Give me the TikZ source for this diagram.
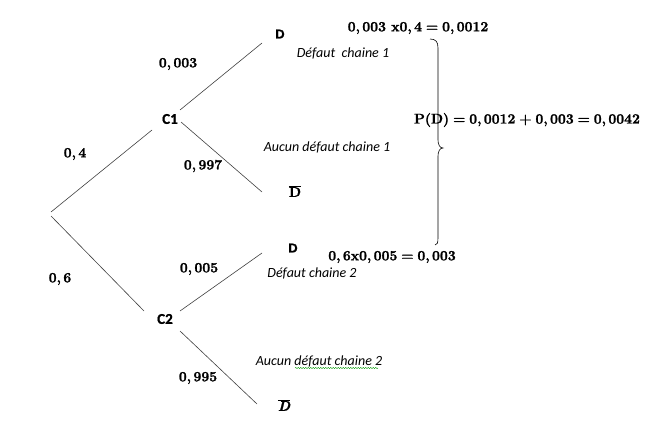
\documentclass[tikz,border=0pt]{standalone}
\usepackage[no-math]{fontspec}
\setmainfont{Carlito}[BoldFeatures={FakeBold=1}]
\newfontfamily\arialf{Liberation Sans}[BoldFeatures={FakeBold=0.8}]
\newfontfamily\cmb{Latin Modern Roman}[BoldFeatures={FakeBold=1.6},BoldItalicFeatures={FakeBold=1.6}]
\usetikzlibrary{decorations.pathmorphing,calc}
\tikzset{
  br/.style={draw=black!75, line width=0.6pt},
  prob/.style={inner sep=0pt, font=\fontsize{14}{16}\selectfont\cmb\bfseries},
  lab/.style={inner sep=0pt, font=\fontsize{14}{16}\selectfont\itshape},
  evt/.style={inner sep=0pt, font=\fontsize{13}{15}\selectfont\arialf\bfseries},
  cn/.style={inner sep=0pt, font=\fontsize{15}{17}\selectfont\bfseries},
}
\newcommand\eqsp{\hspace{0.28em}}
\begin{document}
\begin{tikzpicture}[x=1pt,y=-1pt]
\useasboundingbox (0,0) rectangle (650,420);
% branch endpoints
\coordinate (r1) at (51,212);
\coordinate (r2) at (51,216);
\coordinate (c1a) at (152,130);
\coordinate (c1b) at (180,110);
\coordinate (c1c) at (181,122);
\coordinate (d1e) at (262,43);
\coordinate (n1e) at (262,192);
\coordinate (c2a) at (144,311);
\coordinate (c2b) at (180,311);
\coordinate (c2c) at (180,331);
\coordinate (d2e) at (262,253);
\coordinate (n2e) at (257,404);
% nodes
\node[cn] (C1) at (170,119) {C1};
\node[cn] (C2) at (165,319) {C2};
\node[evt] (D1) at (280,34) {D};
\node[prob] (N1) at (295,191) {$\overline{\hbox{D}}$};
\node[prob] (N2) at (284,405) {$\overline{\hbox{\itshape D}}$};
\node[evt] (D2) at (293,248) {D};
% branches
\draw[br] (r1) -- (c1a);
\draw[br] (r2) -- (c2a);
\draw[br] (c1b) -- (d1e);
\draw[br] (c1c) -- (n1e);
\draw[br] (c2b) -- (d2e);
\draw[br] (c2c) -- (n2e);
% probabilities
\node[prob] (p1) at (75,154) {0,\,4};
\node[prob] (p2) at (60,279) {0,\,6};
\node[prob] (p3) at (178,64) {0,\,003};
\node[prob] (p4) at (203,166) {0,\,997};
\node[prob] (p5) at (199,269) {0,\,005};
\node[prob] (p6) at (198,378) {0,\,995};
% labels
\node[lab] (l1) at (343,53) {Défaut\ \ chaine 1};
\node[lab] (l2) at (327,147) {Aucun défaut chaine 1};
\node[lab] (l3) at (312,273) {Défaut chaine 2};
\node[lab] (l4) at (319,361) {Aucun défaut chaine 2};
\draw[green!60!black, line width=0.4pt, decorate, decoration={snake, amplitude=0.6pt, segment length=2.5pt}]
  ($(l4.center)+(-24,7)$) -- ++(83,0);
% results
\node[prob] (e1) at (418,28) {0,\,003 x0,\,4\eqsp=\eqsp0,\,0012};
\node[prob] (e2) at (392,257) {0,\,6x0,\,005\eqsp=\eqsp0,\,003};
\node[prob] (e3) at (527,120) {P(D)\eqsp=\eqsp0,\,0012\eqsp+\eqsp0,\,003\eqsp=\eqsp0,\,0042};
% brace
\coordinate (bt) at (430,39);
\coordinate (bm) at (443,148);
\coordinate (bb) at (435,245);
\draw[line width=0.6pt] (bt) .. controls (436,39) and (438,42) .. (438,48) -- (438,140)
  .. controls (438,145) and (440,148) .. (bm)
  .. controls (440,148) and (438,151) .. (438,156) -- (438,238)
  .. controls (438,243) and (437,245) .. (bb);
\end{tikzpicture}
\end{document}
